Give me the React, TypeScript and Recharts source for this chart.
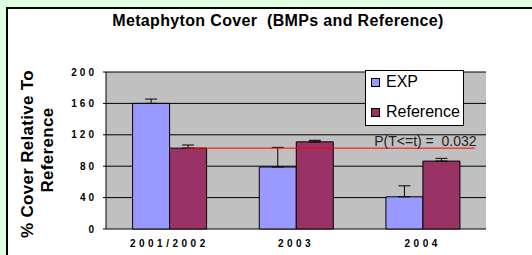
import { BarChart, Bar, XAxis, YAxis, CartesianGrid, ErrorBar, ReferenceLine, Legend } from 'recharts';

const categories = ['2001/2002', '2003', '2004'];
const expValues = [160, 79, 41];
const refValues = [103, 111, 86.5];
const expErrors = [5.5, 25, 14];
const refErrors = [4, 2, 3.5];
const yTicks = [0, 40, 80, 120, 160, 200];
const boundaryTicks = [0, 1, 2, 3];
const pLineX = [0.63, 2.91];
const pLineY = 103;
// nbsp keeps the double gap (recharts Text collapses normal spaces)
const pLabel = 'P(T<=t) =\u00A0 0.032';

const FONT = '"Liberation Sans", Arial, sans-serif';

// note: no "ref" key here, recharts spreads entries onto elements
const chartData = categories.map((name, i) => ({
  name,
  pos: i + 0.5,
  expVal: expValues[i],
  refVal: refValues[i],
  // only the upper whisker is drawn
  expErr: [0, expErrors[i]],
  refErr: [0, refErrors[i]],
}));

const legendItems = [
  { label: 'EXP', color: '#9999FF' },
  { label: 'Reference', color: '#993366' },
];

function renderLegend() {
  return (
    <div
      style={{
        width: 99,
        height: 56,
        boxSizing: 'border-box',
        border: '1px solid #000',
        background: '#fff',
        position: 'relative',
        fontFamily: FONT,
        fontSize: 16,
      }}
    >
      {legendItems.map((item, i) => (
        <div key={item.label} style={{ position: 'absolute', left: 5, top: 1 + i * 30, height: 20, display: 'flex', alignItems: 'center' }}>
          <div style={{ width: 7, height: 7, background: item.color, border: '1px solid #000' }} />
          <span style={{ marginLeft: 6, color: '#000', lineHeight: '20px' }}>{item.label}</span>
        </div>
      ))}
    </div>
  );
}

export default function App() {
  return (
    <div style={{ position: 'relative', width: 532, height: 255, background: '#E0FFE0', overflow: 'hidden' }}>
      <style>{'body{margin:0}'}</style>
      <div
        style={{
          position: 'absolute',
          left: 6,
          top: 7,
          width: 560,
          height: 300,
          background: '#fff',
          borderLeft: '2px solid #000',
          borderTop: '2px solid #000',
        }}
      />
      <div
        style={{
          position: 'absolute',
          left: 0,
          top: 13,
          width: 556,
          textAlign: 'center',
          fontFamily: FONT,
          fontSize: 16,
          fontWeight: 'bold',
          lineHeight: '16px',
          letterSpacing: 0.35,
          whiteSpace: 'pre',
          color: '#000',
        }}
      >
        Metaphyton Cover  (BMPs and Reference)
      </div>
      <svg width={532} height={255} style={{ position: 'absolute', left: 0, top: 0 }}>
        <g fontFamily={FONT} fontSize={17} fontWeight="bold" fill="#000" letterSpacing={0.3}>
          <text x={33} y={154} textAnchor="middle" transform="rotate(-90, 33, 154)">% Cover Relative To</text>
          <text x={53} y={150} textAnchor="middle" transform="rotate(-90, 53, 150)">Reference</text>
        </g>
      </svg>
      <div style={{ position: 'absolute', left: 0, top: 0 }}>
        <BarChart
          width={532}
          height={255}
          data={chartData}
          margin={{ top: 72, right: 46, left: 36, bottom: 0 }}
          barCategoryGap="21%"
          barGap={0}
        >
          <CartesianGrid xAxisId="cat" yAxisId="left" vertical={false} stroke="#000" fill="#C0C0C0" fillOpacity={1} />
          <XAxis
            xAxisId="num"
            type="number"
            dataKey="pos"
            domain={[0, 3]}
            allowDataOverflow
            ticks={boundaryTicks}
            tick={false}
            tickSize={3}
            height={0}
            axisLine={{ stroke: '#000' }}
            tickLine={{ stroke: '#000' }}
          />
          <XAxis
            xAxisId="cat"
            dataKey="name"
            height={26}
            axisLine={false}
            tickLine={false}
            tickSize={0}
            tickMargin={10.5}
            tick={{ fontFamily: FONT, fontSize: 10, fontWeight: 'bold', fill: '#000', letterSpacing: 3.5 }}
          />
          <YAxis
            yAxisId="left"
            domain={[0, 200]}
            ticks={yTicks}
            width={70}
            tickSize={3}
            tickMargin={6}
            axisLine={{ stroke: '#000' }}
            tickLine={{ stroke: '#000' }}
            tick={{ fontFamily: FONT, fontSize: 10, fontWeight: 'bold', fill: '#000', letterSpacing: 3 }}
          />
          <YAxis
            yAxisId="right"
            orientation="right"
            domain={[0, 200]}
            width={0}
            tick={false}
            tickLine={false}
            axisLine={{ stroke: '#808080' }}
          />
          <Legend
            content={renderLegend}
            layout="horizontal"
            verticalAlign="middle"
            align="center"
            wrapperStyle={{ left: 365, top: 70, width: 99, height: 56 }}
          />
          <Bar xAxisId="cat" yAxisId="left" dataKey="expVal" name="EXP" fill="#9999FF" stroke="#000" strokeWidth={1} isAnimationActive={false}>
            <ErrorBar dataKey="expErr" width={6} stroke="#000" strokeWidth={1} />
          </Bar>
          <Bar xAxisId="cat" yAxisId="left" dataKey="refVal" name="Reference" fill="#993366" stroke="#000" strokeWidth={1} isAnimationActive={false}>
            <ErrorBar dataKey="refErr" width={6} stroke="#000" strokeWidth={1} />
          </Bar>
          <ReferenceLine
            xAxisId="num"
            yAxisId="left"
            segment={[{ x: pLineX[0], y: pLineY }, { x: pLineX[1], y: pLineY }]}
            stroke="#FF0000"
            strokeWidth={1}
            ifOverflow="visible"
            label={{ value: pLabel, position: 'insideBottomRight', offset: 2, dx: 4, fontFamily: FONT, fontSize: 14, fill: '#222' }}
          />
        </BarChart>
      </div>
    </div>
  );
}
